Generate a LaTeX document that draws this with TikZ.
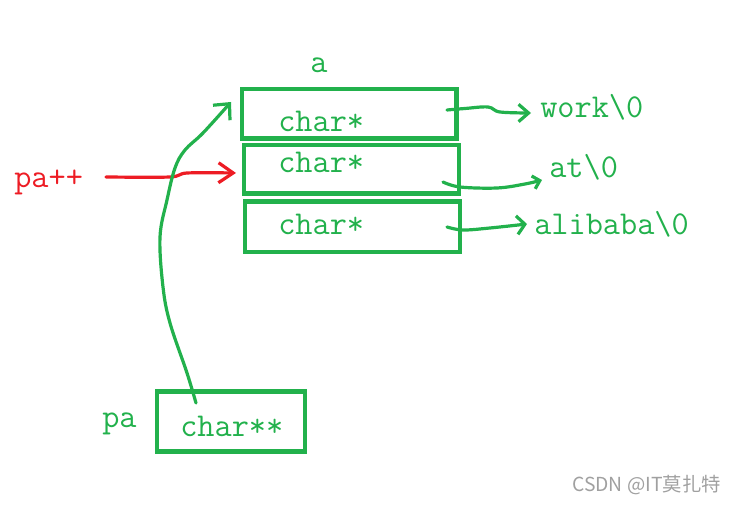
\documentclass[tikz,border=0pt]{standalone}
\usepackage{fontspec}
\newfontfamily\cjkf{Noto Sans CJK SC}
\usetikzlibrary{arrows.meta}
\definecolor{pgreen}{HTML}{22B14C}
\definecolor{pred}{HTML}{ED1C24}
\definecolor{wmgray}{HTML}{A0A0A0}
\tikzset{
  cell/.style={draw=pgreen, line width=3.3pt, inner sep=0pt, outer sep=0pt, rectangle},
  txt/.style={anchor=base west, inner sep=0pt, text=pgreen, font=\ttfamily\fontsize{25}{28}\selectfont},
  redtxt/.style={txt, text=pred},
  arr/.style={draw=pgreen, line width=2.4pt, line cap=round, line join=round},
  redarr/.style={arr, draw=pred}
}
\begin{document}
\begin{tikzpicture}[x=0.75pt,y=-0.75pt]
\useasboundingbox (0,0) rectangle (735,505);
% boxes
\node[cell, minimum width=160.9pt, minimum height=37.1pt] (b1) at (349.25,113.75) {};
\node[cell, minimum width=161.25pt, minimum height=36.4pt] (b2) at (351.5,169.25) {};
\node[cell, minimum width=161.25pt, minimum height=37.9pt] (b3) at (352.5,226.75) {};
\node[cell, minimum width=111pt, minimum height=45pt] (bp) at (231,421.5) {};
% texts
\node[txt] (t1) at (278,132) {char*};
\node[txt] (t2) at (278,173) {char*};
\node[txt] (t3) at (278,235) {char*};
\node[txt] (tp) at (180,437) {char**};
\node[txt] (la) at (310,73) {a};
\node[txt] (lpa) at (102,428) {pa};
\node[redtxt] (lpp) at (14,188) {pa++};
\node[txt] (work) at (540,118) {work\textbackslash0};
\node[txt] (at) at (549,178) {at\textbackslash0};
\node[txt] (ali) at (534,235) {alibaba\textbackslash0};
\node[anchor=base west, inner sep=0pt, text=wmgray, font=\cjkf\fontsize{14.5}{16}\selectfont] (wm) at (572,492) {CSDN @IT莫扎特};
% connector endpoints
\coordinate (w0) at (447,110);
\coordinate (w1) at (531,113);
\coordinate (a0) at (443,182);
\coordinate (a1) at (542,180);
\coordinate (l0) at (447,227);
\coordinate (l1) at (527,224);
\coordinate (r0) at (106,177);
\coordinate (r1) at (236,173);
\coordinate (g0) at (196,403);
\coordinate (g1) at (231,102);
% arrows
\draw[arr, -{Straight Barb[length=7.5pt,width=13pt]}] plot[smooth, tension=0.6] coordinates {(w0) (465,108.5) (488,107) (500,112) (w1)};
\draw[arr, -{Straight Barb[length=5pt,width=10pt]}] plot[smooth, tension=0.6] coordinates {(a0) (460,187) (497,188) (525,184) (a1)};
\draw[arr, -{Straight Barb[length=6pt,width=14pt]}] plot[smooth, tension=0.6] coordinates {(l0) (463,230) (490,228) (l1)};
\draw[redarr, -{Straight Barb[length=11pt,width=15pt]}] plot[smooth, tension=0.5] coordinates {(r0) (170,177) (187,173) (r1)};
\draw[arr, -{Straight Barb[length=9pt,width=17pt]}] plot[smooth, tension=0.6] coordinates {(g0) (187,373) (170,323) (163,287) (160,237) (167,200) (175,168) (185,150) (203,133) (g1)};
\end{tikzpicture}
\end{document}
